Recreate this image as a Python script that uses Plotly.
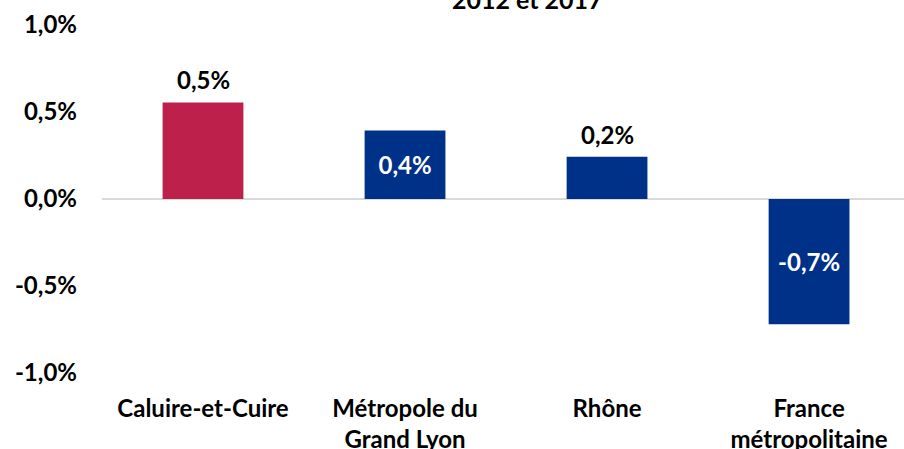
import plotly.graph_objects as go

categories = ["Caluire-et-Cuire", "Métropole du<br>Grand Lyon", "Rhône", "France<br>métropolitaine"]
values = [0.00555, 0.00393, 0.00243, -0.0072]
labels = ["0,5%", "0,4%", "0,2%", "-0,7%"]
label_inside = [False, True, False, True]
colors = ["#BC204B", "#003189", "#003189", "#003189"]
yticks = [-0.01, -0.005, 0.0, 0.005, 0.01]
ytick_labels = ["-1,0%", "-0,5%", "0,0%", "0,5%", "1,0%"]

FONT = "Lato"

fig = go.Figure()
fig.add_trace(go.Bar(
    x=list(range(len(categories))),
    y=values,
    marker=dict(color=colors, line=dict(width=0)),
    width=0.4,
    text=[f"<b>{t}</b>" if ins else "" for t, ins in zip(labels, label_inside)],
    textposition="inside",
    insidetextanchor="middle",
    insidetextfont=dict(color="white", size=24, family=FONT),
    constraintext="none",
    textangle=0,
    hoverinfo="skip",
))

for i, (v, t, ins) in enumerate(zip(values, labels, label_inside)):
    if not ins:
        fig.add_annotation(
            x=i, y=v, xref="x", yref="y", text=f"<b>{t}</b>",
            showarrow=False, yanchor="bottom", yshift=6,
            font=dict(size=24, family=FONT, color="black"),
        )

fig.add_annotation(
    text="<b>Évolution annuelle moyenne de la population entre<br>2012 et 2017</b>",
    xref="paper", yref="paper", x=0.53, y=1, xanchor="center", yanchor="bottom",
    yshift=9, showarrow=False, font=dict(size=25, family=FONT, color="black"),
)

fig.update_layout(
    width=904, height=449,
    margin=dict(l=102, r=0, t=25, b=76, autoexpand=False),
    paper_bgcolor="white", plot_bgcolor="white",
    separators=", ",
    showlegend=False,
    font=dict(family=FONT, color="black"),
    xaxis=dict(
        range=[-0.5, 3.47],
        tickmode="array", tickvals=list(range(len(categories))),
        ticktext=[f"<b>{c}</b>" for c in categories],
        tickfont=dict(size=24, family=FONT, color="black"),
        showgrid=False, zeroline=False, showline=False, ticks="",
        ticklabelstandoff=19, automargin=False,
    ),
    yaxis=dict(
        range=[-0.01, 0.01],
        tickmode="array", tickvals=yticks,
        ticktext=[f"<b>{t}</b>" for t in ytick_labels],
        tickfont=dict(size=24, family=FONT, color="black"),
        showgrid=False, zeroline=True, zerolinecolor="#D9D9D9", zerolinewidth=2,
        showline=False, ticks="", ticklabelstandoff=24, automargin=False,
    ),
)

fig.write_html(
    "out.html",
    config={"displayModeBar": False},
    post_script="document.body.style.margin='0';document.body.style.overflow='hidden';",
)
